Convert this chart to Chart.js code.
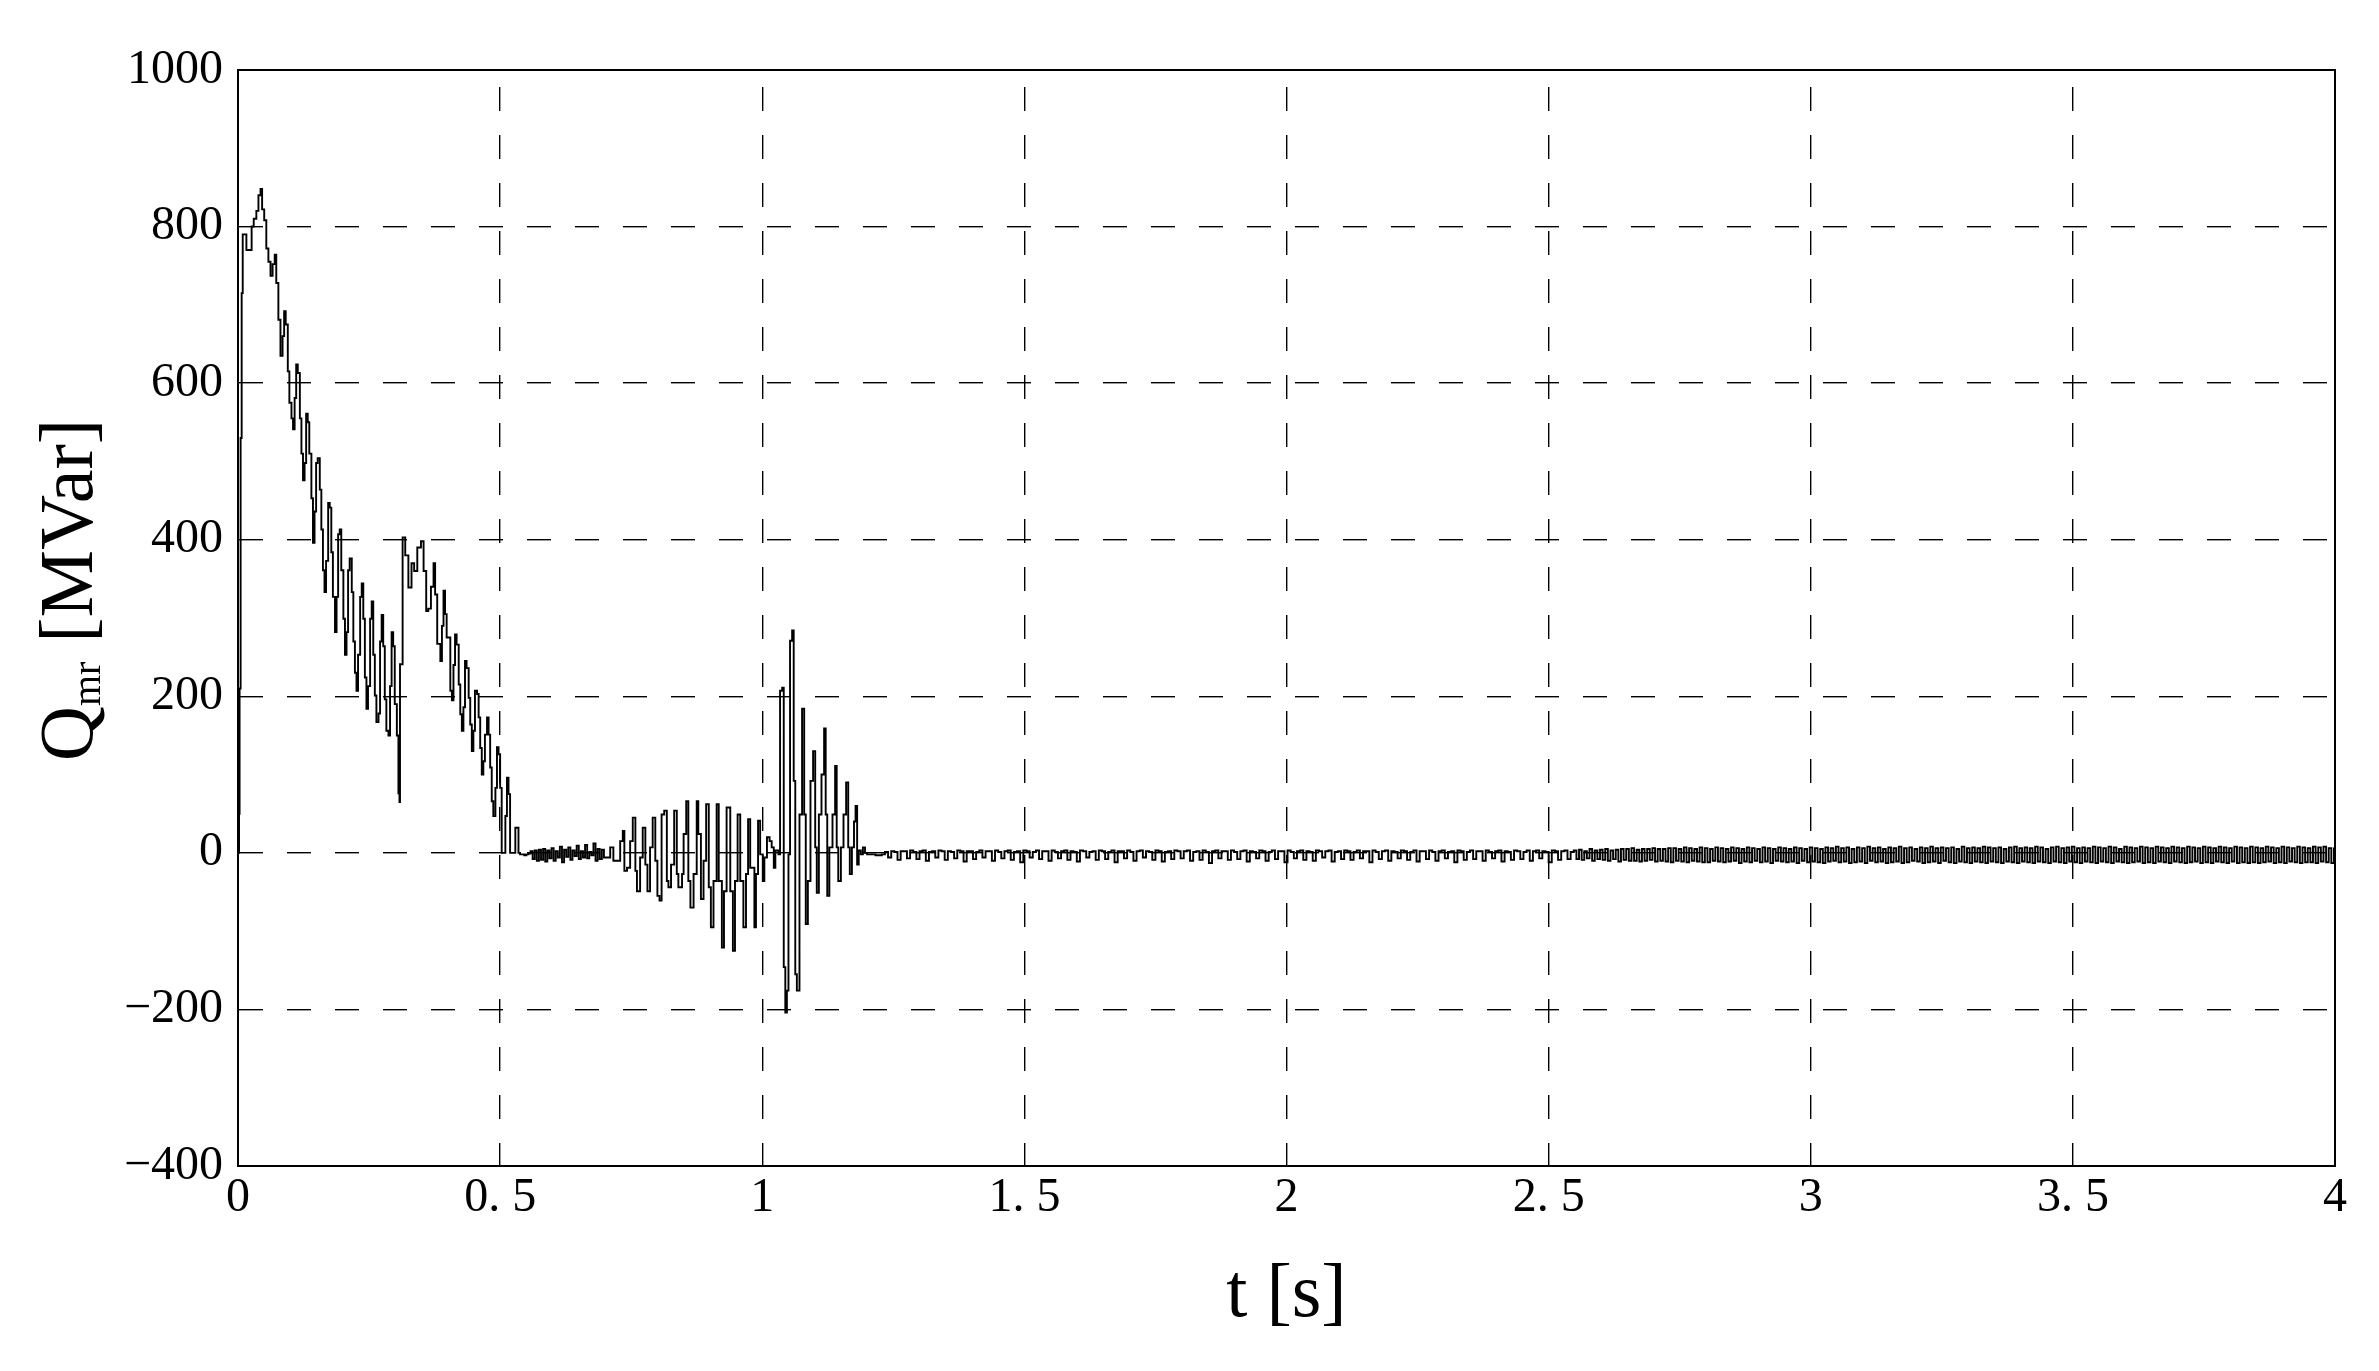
<!DOCTYPE html>
<html><head><meta charset="utf-8">
<script src="https://cdn.jsdelivr.net/npm/chart.js@4.4.1/dist/chart.umd.min.js"></script>
<style>html,body{margin:0;padding:0;background:#fff;} canvas{display:block;}</style>
</head><body>
<canvas id="c" width="2379" height="1371"></canvas>
<script>
// ---- tick labels and titles ----
const xTickLabels = ['0','0. 5','1','1. 5','2','2. 5','3','3. 5','4'];
const yTickLabels = ['\u2212400','\u2212200','0','200','400','600','800','1000'];
const xTitle = 't [s]';
const yTitleMain = 'Q', yTitleSub = 'mr', yTitleUnit = ' [MVar]';

// ---- series: [time s, Qmr MVar] ----
const firstSurge = [[0,0],[0.002,50],[0.003,210],[0.005,530],[0.007,715],[0.009,790],[0.013,790],[0.016,770],[0.022,770],[0.026,800],[0.030,810],[0.035,820],[0.039,840],[0.043,848],[0.046,822],[0.050,808],[0.054,772],[0.058,755],[0.062,737],[0.066,752],[0.070,764],[0.073,728],[0.077,681],[0.081,635],[0.085,660],[0.088,692],[0.091,675],[0.095,615],[0.098,575],[0.102,555],[0.105,541],[0.108,581],[0.111,624],[0.114,613],[0.118,555],[0.121,510],[0.124,476],[0.127,498],[0.130,561],[0.133,550],[0.136,510],[0.140,453],[0.143,396],[0.146,436],[0.149,498],[0.152,504],[0.156,464],[0.159,413],[0.162,361],[0.165,333],[0.168,373],[0.172,447],[0.175,441],[0.178,384],[0.181,327],[0.185,282],[0.188,327],[0.191,407],[0.194,413],[0.197,361],[0.201,299],[0.204,253],[0.207,282],[0.210,361],[0.213,376],[0.217,333],[0.220,270],[0.223,230],[0.226,207],[0.229,253],[0.233,327],[0.236,344],[0.239,299],[0.242,224],[0.245,184],[0.248,213],[0.252,299],[0.255,321],[0.258,253],[0.261,201],[0.264,167],[0.268,178],[0.271,270],[0.274,304],[0.277,264],[0.280,196],[0.283,156],[0.287,150],[0.290,213],[0.293,282],[0.296,264],[0.299,190],[0.303,150],[0.306,76],[0.308,65]];

const secondSurge = [[0.309,241],[0.314,403],[0.319,380],[0.325,339],[0.331,370],[0.336,360],[0.342,390],[0.349,398],[0.354,360],[0.359,309],[0.363,312],[0.368,340],[0.373,370],[0.376,330],[0.380,267],[0.386,245],[0.389,290],[0.392,335],[0.395,305],[0.398,275],[0.405,207],[0.408,195],[0.411,240],[0.414,279],[0.417,266],[0.421,215],[0.424,177],[0.427,156],[0.430,186],[0.433,245],[0.436,236],[0.440,198],[0.443,164],[0.446,130],[0.449,156],[0.452,207],[0.456,203],[0.459,173],[0.462,134],[0.465,100],[0.468,117],[0.471,151],[0.475,173],[0.478,151],[0.481,109],[0.484,66],[0.487,47],[0.491,83],[0.494,135],[0.497,126],[0.500,83],[0.503,0],[0.508,0],[0.510,47],[0.513,96],[0.516,75],[0.519,0],[0.526,0],[0.529,32],[0.532,32],[0.535,0]];

const quietStart = 0.538, quietStep = 0.004;
const quietQ = [-2,-2,-3,-2,-1,2,-8,3,-10,4,-9,5,-11,3,-7,6,-10,2,-6,8,-12,4,-5,7,-9,3,-4,9,-8,2,-6,10,-7,1,-3,12,-10,5,-8,4];

const oscillation = [[0.698,-6],[0.704,-6],[0.710,7],[0.716,-10],[0.723,-10],[0.729,15],[0.734,28],[0.737,-23],[0.742,-19],[0.748,15],[0.753,45],[0.758,-23],[0.761,-49],[0.764,-49],[0.767,-6],[0.772,32],[0.777,-15],[0.781,-49],[0.786,7],[0.791,45],[0.796,-10],[0.800,-55],[0.804,-61],[0.808,49],[0.813,54],[0.818,-36],[0.821,-44],[0.826,-15],[0.832,54],[0.837,-27],[0.840,-44],[0.847,-27],[0.850,24],[0.855,66],[0.859,-36],[0.863,-70],[0.869,-27],[0.875,66],[0.878,24],[0.883,-59],[0.888,-10],[0.893,62],[0.898,-44],[0.902,-95],[0.907,-36],[0.913,62],[0.917,-36],[0.923,-121],[0.927,-49],[0.932,58],[0.939,-49],[0.944,-125],[0.948,-36],[0.953,49],[0.958,-36],[0.964,-95],[0.969,-27],[0.973,43],[0.977,-19],[0.985,-95],[0.988,-27],[0.992,41],[0.996,-2],[1.001,-36],[1.004,-6],[1.009,20],[1.014,15],[1.018,7],[1.022,-19],[1.025,3],[1.031,-2],[1.034,207],[1.038,211],[1.041,-146],[1.044,-204],[1.047,-176],[1.050,-2],[1.053,271],[1.057,284],[1.060,92],[1.063,-155],[1.066,-176],[1.071,49],[1.076,184],[1.080,49],[1.083,-91],[1.087,-36],[1.092,92],[1.097,130],[1.101,7],[1.104,-51],[1.108,49],[1.113,100],[1.118,159],[1.121,49],[1.124,-55],[1.128,7],[1.134,49],[1.139,111],[1.142,7],[1.145,-36],[1.150,7],[1.155,49],[1.160,90],[1.164,7],[1.167,-27],[1.171,7],[1.175,40],[1.178,60],[1.181,-15],[1.184,3],[1.188,-2],[1.192,7],[1.196,0],[1.200,-2]];

const tailAStart = 1.204, tailAStep = 0.006;
const tailAQ = [-2,-2,-3,-3,-2,1,-6,2,1,-9,
2,2,-7,3,1,-8,2,3,-10,1,
2,-6,3,2,-9,2,1,-7,3,2,
-11,2,2,-8,1,3,-6,2,2,-10,
3,1,-7,2,3,-9,1,2,-12,3,
2,-6,1,3,-8,2,2,-10,3,1,
-7,2,3,-9,2,1,-11,3,2,-6,
1,2,-9,3,2,-8,1,3,-12,2,
2,-7,3,1,-10,2,3,-6,2,1,
-9,3,2,-11,1,2,-8,3,2,-7,
2,3,-10,1,2,-9,3,1,-13,2,
3,-7,2,2,-9,3,1,-8,2,3,
-11,2,1,-7,3,2,-10,1,3,-8,
2,2,-12,3,1,-7,2,3,-9,2,
1,-10,3,2,-6,2,3,-11,1,2,
-8,3,2,-9,1,3,-7,2,2,-12,
3,1,-8,2,3,-10,2,1,-7,3,
2,-9,1,3,-11,2,2,-8,3,1,
-10,2,3,-7,1,2,-12,3,2,-9,
1,3,-8,2,2,-10,3,1,-7,2,
3,-11,2,1,-9,3,2,-8,1,3,
-10,2,3,-7,2,1,-12,3,2,-9,
2,3,-8,1];

const tailBStart = 2.548, tailBStep = 0.005;
const tailBQ = [3,-8,4,-9,2,-7,5,-10,3,-8,
4,-9,5,-10,3,-8,4,-11,5,-9,
5,-10,6,-10,4,-11,5,-10,5,-9,
6,-11,5,-10,5,-11,6,-12,6,-10,
5,-11,7,-12,6,-10,5,-11,7,-12,
6,-12,5,-10,7,-11,6,-12,5,-11,
7,-10,6,-13,5,-11,7,-12,6,-10,
5,-12,7,-11,6,-13,5,-10,7,-11,
6,-12,5,-11,7,-13,6,-10,5,-12,
7,-11,6,-12,5,-13,7,-11,6,-10,
8,-12,6,-11,7,-13,5,-12,7,-11,
6,-13,8,-10,6,-12,7,-11,5,-13,
7,-12,6,-11,8,-13,6,-12,7,-10,
5,-11,7,-13,6,-12,8,-11,6,-13,
7,-10,6,-12,7,-13,5,-11,8,-12,
6,-13,7,-11,6,-12,8,-13,7,-11,
6,-12,7,-13,5,-11,7,-12,8,-13,
6,-11,7,-12,6,-13,8,-11,7,-12,
5,-13,7,-11,8,-12,6,-13,7,-11,
8,-12,6,-13,7,-11,6,-12,8,-13,
7,-11,6,-12,8,-13,7,-11,5,-12,
8,-13,7,-12,6,-11,8,-13,7,-12,
6,-13,8,-11,7,-12,6,-13,8,-11,
7,-12,6,-13,8,-12,7,-11,6,-13,
8,-12,7,-13,6,-11,8,-12,7,-13,
6,-11,8,-13,7,-12,6,-13,8,-12,
7,-13,6,-12,8,-11,7,-13,6,-12,
8,-13,7,-11,6,-12,8,-13,7,-12,
6,-12,8,-13,7,-11,8,-12,6,-13,
7];

// ---- assemble points ----
const points = [];
firstSurge.forEach(([t,q]) => points.push({x:t, y:q}));
secondSurge.forEach(([t,q]) => points.push({x:t, y:q}));
quietQ.forEach((q,i) => points.push({x:+(quietStart + i*quietStep).toFixed(4), y:q}));
oscillation.forEach(([t,q]) => points.push({x:t, y:q}));
tailAQ.forEach((q,i) => points.push({x:+(tailAStart + i*tailAStep).toFixed(4), y:q}));
tailBQ.forEach((q,i) => points.push({x:+(tailBStart + i*tailBStep).toFixed(4), y:q}));

const SERIF = '"Liberation Serif", "DejaVu Serif", serif';

const framePlugin = {
  id: 'frameAndTitles',
  afterDraw(chart) {
    const ctx = chart.ctx, a = chart.chartArea;
    ctx.save();
    ctx.strokeStyle = '#000';
    ctx.lineWidth = 2;
    ctx.strokeRect(a.left, a.top, a.right - a.left, a.bottom - a.top);
    ctx.fillStyle = '#000';
    // x title
    ctx.font = '76px ' + SERIF;
    ctx.textAlign = 'center';
    ctx.textBaseline = 'alphabetic';
    ctx.fillText(xTitle, (a.left + a.right) / 2, a.bottom + 150);
    // y title (rotated, with subscript)
    ctx.translate(92, 590);
    ctx.rotate(-Math.PI / 2);
    const big = '76px ' + SERIF, small = '40px ' + SERIF;
    ctx.font = big;
    const wQ = ctx.measureText(yTitleMain).width;
    const wU = ctx.measureText(yTitleUnit).width;
    ctx.font = small;
    const wS = ctx.measureText(yTitleSub).width;
    let x0 = -(wQ + wS + wU) / 2;
    ctx.textAlign = 'left';
    ctx.font = big; ctx.fillText(yTitleMain, x0, 0); x0 += wQ;
    ctx.font = small; ctx.fillText(yTitleSub, x0, 8); x0 += wS;
    ctx.font = big; ctx.fillText(yTitleUnit, x0, 0);
    ctx.restore();
  }
};

new Chart(document.getElementById('c'), {
  type: 'line',
  data: { datasets: [{
    data: points,
    borderColor: '#000',
    borderWidth: 1.9,
    pointRadius: 0,
    fill: false,
    stepped: true,
    tension: 0
  }]},
  options: {
    responsive: false,
    animation: false,
    devicePixelRatio: 1,
    parsing: false,
    layout: { padding: { left: 0, top: 70, right: 44, bottom: 0 } },
    plugins: { legend: { display: false }, tooltip: { enabled: false }, title: { display: false } },
    scales: {
      x: {
        type: 'linear', min: 0, max: 4,
        afterFit(s) { s.height = 205; },
        ticks: {
          stepSize: 0.5, padding: 4, color: '#000', maxRotation: 0, autoSkip: false,
          font: { family: SERIF, size: 48 },
          callback: (v) => { const i = Math.round(v / 0.5); return (Math.abs(v - i*0.5) < 1e-6 && xTickLabels[i] !== undefined) ? xTickLabels[i] : ''; }
        },
        grid: { color: '#000', lineWidth: 1.4, drawTicks: false, borderDash: [24, 24], borderDashOffset: 31 },
        border: { display: true, color: '#000', width: 2, dash: [24, 24], dashOffset: 31 }
      },
      y: {
        type: 'linear', min: -400, max: 1000,
        afterFit(s) { s.width = 238; },
        ticks: {
          stepSize: 200, padding: 15, color: '#000',
          font: { family: SERIF, size: 48 },
          callback: (v) => { const i = Math.round((v + 400) / 200); return yTickLabels[i] !== undefined ? yTickLabels[i] : ''; }
        },
        grid: { color: '#000', lineWidth: 1.4, drawTicks: false, borderDash: [24, 24], borderDashOffset: 0 },
        border: { display: true, color: '#000', width: 2, dash: [24, 24], dashOffset: 0 }
      }
    }
  },
  plugins: [framePlugin]
});
</script>
</body></html>
